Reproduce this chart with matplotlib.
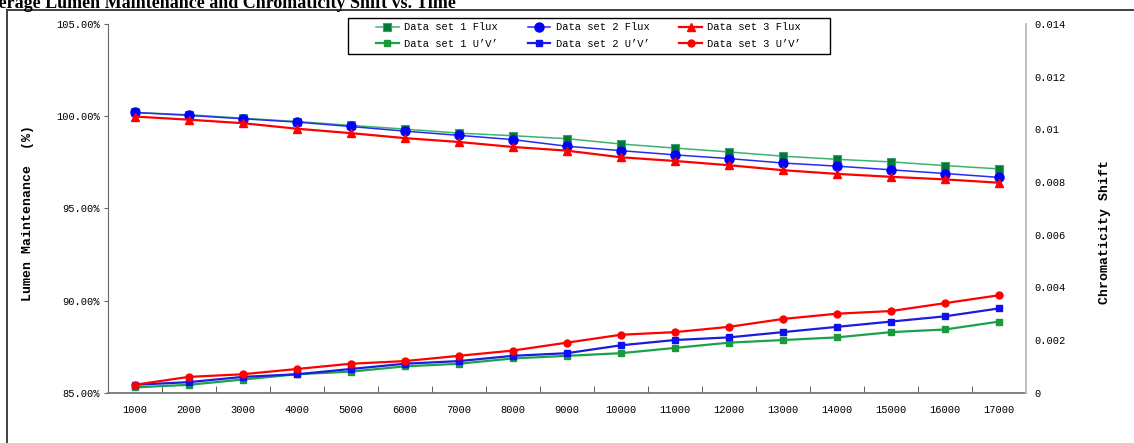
import numpy as np
import matplotlib
matplotlib.use("Agg")
import matplotlib.pyplot as plt
from matplotlib.lines import Line2D
from matplotlib.patches import Rectangle

# hours
hours = [1000, 2000, 3000, 4000, 5000, 6000, 7000, 8000, 9000, 10000,
         11000, 12000, 13000, 14000, 15000, 16000, 17000]

# lumen maintenance (%)
flux1 = [100.20, 100.08, 99.89, 99.71, 99.50, 99.30, 99.08, 98.94, 98.78, 98.49,
         98.27, 98.06, 97.83, 97.66, 97.52, 97.32, 97.14]
flux2 = [100.20, 100.04, 99.86, 99.68, 99.44, 99.19, 98.96, 98.73, 98.37, 98.13,
         97.90, 97.70, 97.46, 97.29, 97.09, 96.89, 96.68]
flux3 = [99.98, 99.81, 99.62, 99.32, 99.08, 98.81, 98.60, 98.33, 98.13, 97.77,
         97.57, 97.34, 97.07, 96.87, 96.71, 96.57, 96.39]

# chromaticity shift u'v'
uv1 = [0.0002, 0.0003, 0.0005, 0.0007, 0.0008, 0.0010, 0.0011, 0.0013, 0.0014, 0.0015,
       0.0017, 0.0019, 0.0020, 0.0021, 0.0023, 0.0024, 0.0027]
uv2 = [0.0003, 0.0004, 0.0006, 0.0007, 0.0009, 0.0011, 0.0012, 0.0014, 0.0015, 0.0018,
       0.0020, 0.0021, 0.0023, 0.0025, 0.0027, 0.0029, 0.0032]
uv3 = [0.0003, 0.0006, 0.0007, 0.0009, 0.0011, 0.0012, 0.0014, 0.0016, 0.0019, 0.0022,
       0.0023, 0.0025, 0.0028, 0.0030, 0.0031, 0.0034, 0.0037]

left_ticks = [85, 90, 95, 100, 105]
right_ticks = [0, 0.002, 0.004, 0.006, 0.008, 0.010, 0.012, 0.014]

W, H = 1134, 443
mono = ["Liberation Mono", "DejaVu Sans Mono"]

fig = plt.figure(figsize=(W / 100, H / 100), dpi=100)
ax = fig.add_axes([107.7 / W, 1 - 392.7 / H, (1026 - 107.7) / W, (392.7 - 24) / H])
ax2 = ax.twinx()

x = np.arange(len(hours))

h1, = ax.plot(x, flux1, color="#3cb371", lw=1.1, marker="s", ms=6,
              mfc="#007a33", mec="#3a9e78", mew=0.8, label="Data set 1 Flux")
h2, = ax.plot(x, flux2, color="#2a2aee", lw=1.1, marker="o", ms=6.5,
              mfc="#0000ff", mec="#0000ff", label="Data set 2 Flux")
h3, = ax.plot(x, flux3, color="#ff0000", lw=1.6, marker="^", ms=6,
              mfc="#ff0000", mec="#ff0000", label="Data set 3 Flux")
u1, = ax2.plot(x, uv1, color="#1aa34a", lw=1.6, marker="s", ms=4.5,
               mfc="#1a9a3a", mec="#1a9a3a", label="Data set 1 U\u2019V\u2019")
u2, = ax2.plot(x, uv2, color="#1c1cdd", lw=1.6, marker="s", ms=4.5,
               mfc="#1010ee", mec="#1010ee", label="Data set 2 U\u2019V\u2019")
u3, = ax2.plot(x, uv3, color="#ff0000", lw=1.6, marker="o", ms=5,
               mfc="#ff0000", mec="#ff0000", label="Data set 3 U\u2019V\u2019")

ax.set_xlim(-0.5, len(hours) - 0.5)
ax.set_ylim(85, 105)
ax2.set_ylim(0, 0.014)

ax.set_xticks(x)
ax.set_xticklabels([str(h) for h in hours], family=mono, fontsize=7.5)
ax.set_xticks(np.arange(0.5, len(hours) - 1, 1.0), minor=True)
ax.tick_params(axis="x", which="major", length=0, pad=9)
ax.tick_params(axis="x", which="minor", direction="in", length=5, color="#444444")

ax.set_yticks(left_ticks)
ax.set_yticklabels([f"{v:.2f}%" for v in left_ticks], family=mono, fontsize=7.5)
ax.tick_params(axis="y", direction="out", length=3, color="#666666", pad=2.5)

ax2.set_yticks(right_ticks)
ax2.set_yticklabels([f"{v:g}" for v in right_ticks], family=mono, fontsize=7.5)
ax2.tick_params(axis="y", length=0, pad=6)

for a in (ax, ax2):
    a.spines["top"].set_visible(False)
ax.spines["right"].set_visible(False)
ax2.spines["left"].set_visible(False)
ax2.spines["bottom"].set_visible(False)
ax.spines["left"].set_color("#666666")
ax.spines["bottom"].set_color("#777777")
ax.spines["bottom"].set_linewidth(1.3)
ax2.spines["right"].set_color("#bbbbbb")
ax2.spines["right"].set_linewidth(1.3)

fig.text(28 / W, 1 - 213 / H, "Lumen Maintenance  (%)", rotation=90,
         ha="center", va="center", family=mono, fontsize=9.5, fontweight="bold")
fig.text(1105 / W, 1 - 232 / H, "Chromaticity Shift", rotation=90,
         ha="center", va="center", family=mono, fontsize=9.5, fontweight="bold")

# legend box drawn separately so the inner padding matches
fig.add_artist(Rectangle((348 / W, 1 - 54.3 / H), (830 - 348) / W, 36 / H,
                         transform=fig.transFigure, fill=True, facecolor="white",
                         edgecolor="black", lw=1.0, zorder=4))
leg = fig.legend(handles=[h1, u1, h2, u2, h3, u3], ncol=3,
                 loc="upper left", bbox_to_anchor=(376 / W, 1 - 22.5 / H),
                 bbox_transform=fig.transFigure, prop={"family": mono, "size": 7.5},
                 frameon=False, handlelength=2.2, handletextpad=0.5,
                 columnspacing=2.85, labelspacing=0.62, borderpad=0.0,
                 borderaxespad=0)
leg.set_zorder(5)

# outer frame (cut off at right and bottom)
fig.add_artist(Line2D([7 / W, 7 / W], [0, 1 - 10 / H], transform=fig.transFigure,
                      color="#404040", lw=1.4))
fig.add_artist(Line2D([7 / W, 1], [1 - 10 / H, 1 - 10 / H], transform=fig.transFigure,
                      color="#404040", lw=1.4))

fig.text(456 / W, 1 - 7.5 / H, "Average Lumen Maintenance and Chromaticity Shift vs. Time",
         ha="right", va="baseline", family=["Liberation Serif", "DejaVu Serif"],
         fontsize=13, fontweight="bold")

fig.savefig("out.png", dpi=100)
